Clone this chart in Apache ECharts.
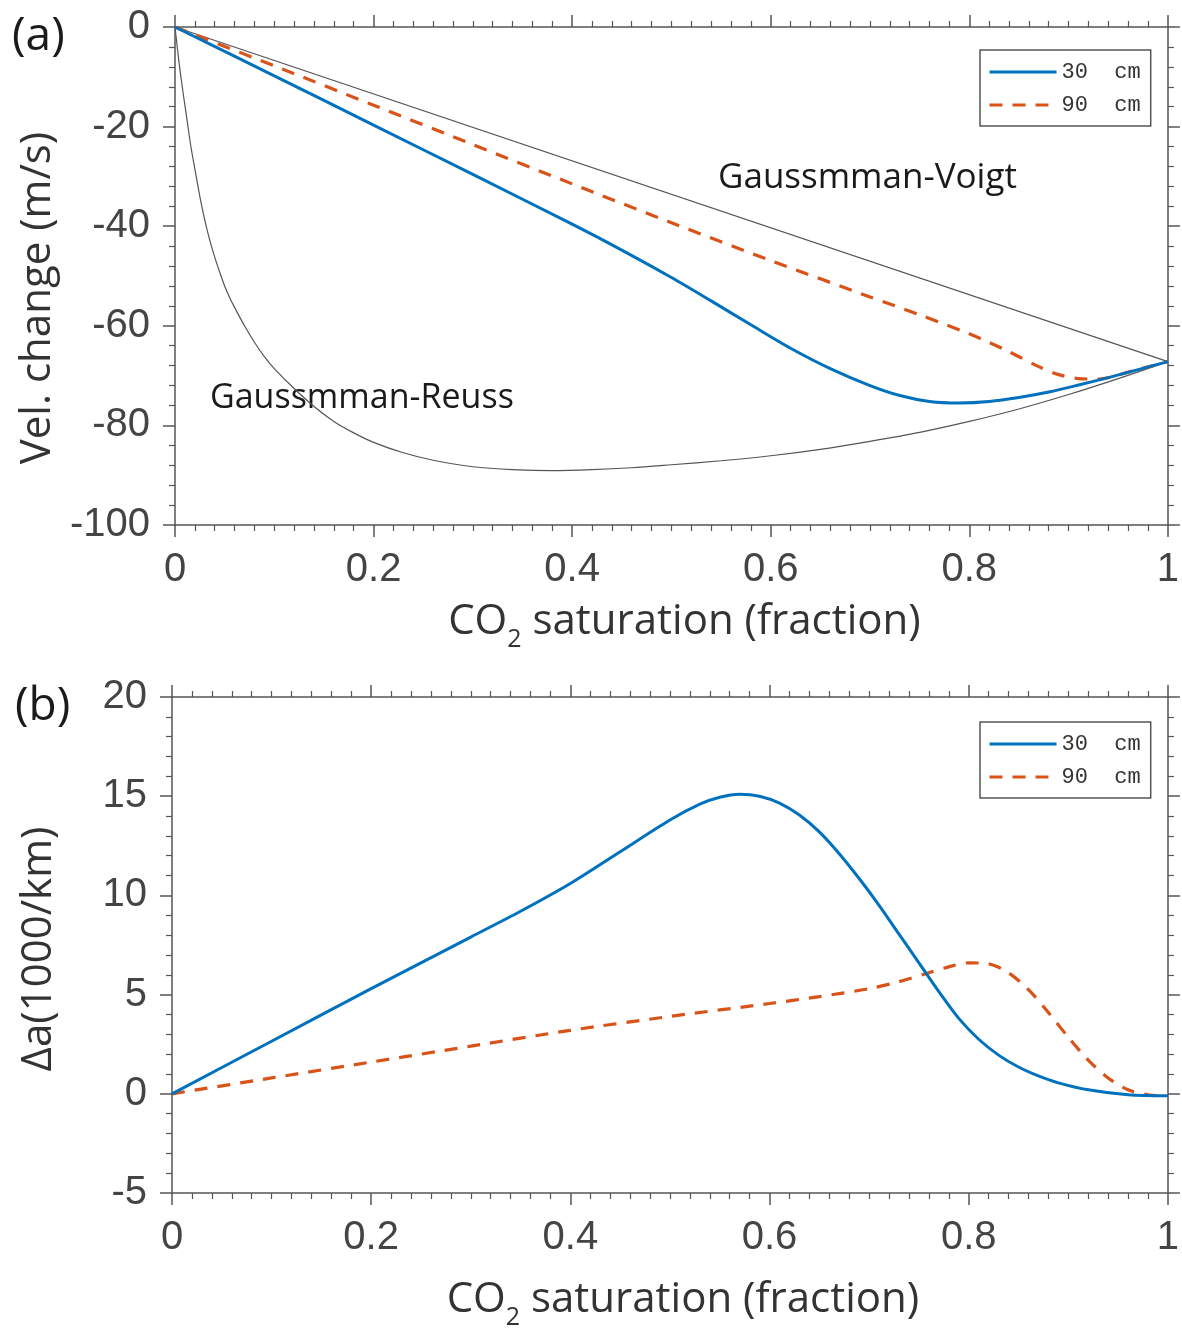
<!DOCTYPE html>
<html>
<head>
<meta charset="utf-8">
<title>CO2 saturation</title>
<script src="https://cdn.jsdelivr.net/npm/echarts@6.0.0/dist/echarts.min.js"></script>
<style>
  html, body { margin: 0; padding: 0; background: #fff; }
  #chart { width: 1182px; height: 1331px; }
</style>
</head>
<body>
<div id="chart"></div>
<script>
// ---- data ----
// (a) velocity change (m/s) vs CO2 saturation
var voigtX = [0, 1];
var voigtV = [0, -67.2];

var reussX = [0, 0.004, 0.008, 0.012, 0.016, 0.02, 0.025, 0.03, 0.035, 0.04, 0.045, 0.05, 0.055, 0.06, 0.07, 0.08, 0.09, 0.1, 0.12, 0.14, 0.16, 0.18, 0.2, 0.23, 0.26, 0.3, 0.34, 0.38, 0.42, 0.46, 0.5, 0.55, 0.6, 0.65, 0.7, 0.75, 0.8, 0.85, 0.9, 0.95, 1];
var reussV = [0, -7, -13, -18.5, -24, -28.5, -34, -38.8, -42.8, -46.2, -49.2, -52, -54.3, -56.3, -60, -63.3, -66.2, -68.6, -72.6, -76.2, -79.2, -81.5, -83.4, -85.5, -87, -88.3, -88.9, -89.1, -88.9, -88.5, -87.9, -87.1, -86.1, -84.8, -83.2, -81.4, -79.2, -76.7, -73.8, -70.6, -67.2];

var vel30X = [0, 0.1, 0.2, 0.3, 0.4, 0.45, 0.5, 0.54, 0.58, 0.62, 0.66, 0.7, 0.73, 0.76, 0.79, 0.82, 0.85, 0.88, 0.91, 0.94, 0.97, 1];
var vel30V = [0, -9.8, -19.7, -29.6, -39.6, -44.8, -50.3, -55, -59.8, -64.5, -68.6, -72, -74, -75.2, -75.5, -75.2, -74.4, -73.3, -71.9, -70.4, -68.8, -67.2];

var vel90X = [0, 0.1, 0.2, 0.3, 0.4, 0.5, 0.6, 0.7, 0.75, 0.8, 0.84, 0.87, 0.89, 0.91, 0.93, 0.96, 1];
var vel90V = [0, -7.8, -15.7, -23.6, -31.5, -39.3, -46.9, -54.2, -57.8, -61.6, -65.2, -68.2, -69.8, -70.6, -70.7, -69.3, -67.2];

// (b) attenuation change (1000/km)
var att30X = [0, 0.1, 0.2, 0.3, 0.35, 0.4, 0.45, 0.5, 0.53, 0.55, 0.57, 0.59, 0.61, 0.63, 0.65, 0.67, 0.69, 0.71, 0.73, 0.75, 0.77, 0.79, 0.81, 0.83, 0.85, 0.87, 0.89, 0.92, 0.96, 1];
var att30V = [0, 2.65, 5.3, 7.9, 9.2, 10.6, 12.2, 13.8, 14.6, 14.95, 15.1, 15.0, 14.65, 14.05, 13.2, 12.1, 10.85, 9.5, 8.05, 6.6, 5.15, 3.8, 2.75, 1.95, 1.35, 0.9, 0.55, 0.2, -0.05, -0.1];

var att90X = [0, 0.1, 0.2, 0.3, 0.4, 0.5, 0.6, 0.65, 0.7, 0.73, 0.76, 0.78, 0.8, 0.82, 0.84, 0.86, 0.88, 0.9, 0.92, 0.94, 0.96, 0.98, 1];
var att90V = [0, 0.8, 1.6, 2.4, 3.2, 3.9, 4.55, 4.9, 5.3, 5.65, 6.1, 6.4, 6.6, 6.55, 6.1, 5.25, 4.1, 2.85, 1.7, 0.8, 0.2, -0.05, -0.1];

var xTicks = [0, 0.2, 0.4, 0.6, 0.8, 1];
var yTicksA = [-100, -80, -60, -40, -20, 0];
var yTicksB = [-5, 0, 5, 10, 15, 20];
var legendNames = ['30 cm', '90 cm'];

function pairs(xs, ys) {
    return xs.map(function (x, i) { return [x, ys[i]]; });
}

var AXIS = '#555';
var BLUE = '#0072BD';
var ORANGE = '#D95319';
var LABEL_FONT = 'Liberation Sans';
var TITLE_FONT = 'Open Sans';

var xName = {
    name: '{a|CO}{s|2}{a| saturation (fraction)}',
    rich: {
        a: { fontFamily: TITLE_FONT, fontSize: 42, color: '#333', lineHeight: 60, verticalAlign: 'middle' },
        s: { fontFamily: TITLE_FONT, fontSize: 25, color: '#333', lineHeight: 26, verticalAlign: 'bottom' }
    }
};

// one axis of the box; labelled or not
function makeX(grid, pos, labelled, gap) {
    return {
        type: 'value', gridIndex: grid, position: pos,
        min: xTicks[0], max: xTicks[xTicks.length - 1], interval: 0.2,
        name: labelled ? xName.name : '',
        nameLocation: 'middle', nameGap: gap,
        nameTextStyle: { rich: xName.rich, padding: [0, 0, 0, 26] },
        axisLine: { show: true, onZero: false, lineStyle: { color: AXIS, width: 1.5 } },
        axisTick: { show: true, inside: false, length: 12, lineStyle: { color: AXIS, width: 1.5 } },
        minorTick: { show: true, splitNumber: 10, length: 6, lineStyle: { color: AXIS, width: 1.2 } },
        axisLabel: {
            show: labelled, margin: 25, fontFamily: LABEL_FONT, fontSize: 40, color: '#444',
            formatter: function (v) { return String(+v.toFixed(1)); }
        },
        splitLine: { show: false }
    };
}

// shift: moves the rotated title down the page (px * 2 of padding)
function makeY(grid, pos, labelled, ticks, name, shift) {
    return {
        type: 'value', gridIndex: grid, position: pos,
        min: ticks[0], max: ticks[ticks.length - 1], interval: ticks[1] - ticks[0],
        name: labelled ? name : '',
        nameLocation: 'middle', nameGap: 112,
        nameTextStyle: { fontFamily: TITLE_FONT, fontSize: 42, color: '#333', padding: [0, shift || 0, 0, 0] },
        axisLine: { show: true, onZero: false, lineStyle: { color: AXIS, width: 1.5 } },
        axisTick: { show: true, inside: false, length: 12, lineStyle: { color: AXIS, width: 1.5 } },
        minorTick: { show: true, splitNumber: 5, length: 6, lineStyle: { color: AXIS, width: 1.2 } },
        axisLabel: { show: labelled, margin: 25, fontFamily: LABEL_FONT, fontSize: 40, color: '#444' },
        splitLine: { show: false }
    };
}

function makeLegend(top) {
    return {
        orient: 'vertical', left: 980, top: top,
        data: legendNames,
        selectedMode: false,
        itemWidth: 67, itemHeight: 20, itemGap: 11,
        padding: [11, 10, 10, 8],
        borderColor: AXIS, borderWidth: 1.5, backgroundColor: '#fff',
        itemStyle: { opacity: 0 },          // hide the symbol, keep the line
        lineStyle: { width: 3 },
        textStyle: { fontFamily: 'Liberation Mono', fontSize: 22, color: '#333' },
        formatter: function (n) { return n.replace(' ', '  '); }
    };
}

function curve(name, xi, yi, data, color, width, dashed) {
    return {
        name: name, type: 'line', xAxisIndex: xi, yAxisIndex: yi,
        data: data, smooth: 0.3, symbol: 'none', silent: true,
        lineStyle: { color: color, width: width, type: dashed ? [13, 10] : 'solid' },
        itemStyle: { color: color }
    };
}

var chart = echarts.init(document.getElementById('chart'));

var option = {
    animation: false,
    backgroundColor: '#fff',
    grid: [
        { left: 175, top: 27, width: 998, height: 498 },
        { left: 172, top: 697, width: 1001, height: 498 }
    ],
    xAxis: [
        makeX(0, 'bottom', true, 67),
        makeX(0, 'top', false, 0),
        makeX(1, 'bottom', true, 77),
        makeX(1, 'top', false, 0)
    ],
    yAxis: [
        makeY(0, 'left', true, yTicksA, 'Vel. change (m/s)', 44),
        makeY(0, 'right', false, yTicksA, ''),
        makeY(1, 'left', true, yTicksB, '\u0394a(1000/km)', 8),
        makeY(1, 'right', false, yTicksB, '')
    ],
    legend: [makeLegend(50), makeLegend(722)],
    series: [
        curve('Gaussmman-Voigt', 0, 0, pairs(voigtX, voigtV), '#555', 1.2, false),
        curve('Gaussmman-Reuss', 0, 0, pairs(reussX, reussV), '#555', 1.2, false),
        curve('90 cm', 0, 0, pairs(vel90X, vel90V), ORANGE, 3.2, true),
        curve('30 cm', 0, 0, pairs(vel30X, vel30V), BLUE, 3, false),
        curve('90 cm', 2, 2, pairs(att90X, att90V), ORANGE, 3.2, true),
        curve('30 cm', 2, 2, pairs(att30X, att30V), BLUE, 3, false)
    ],
    graphic: [
        { type: 'text', left: 12, top: 14, style: { text: '(a)', font: '46px "Open Sans"', fill: '#1a1a1a' } },
        { type: 'text', left: 15, top: 684, style: { text: '(b)', font: '46px "Open Sans"', fill: '#1a1a1a' } },
        { type: 'text', left: 718, top: 161, style: { text: 'Gaussmman-Voigt', font: '35px "Open Sans"', fill: '#1a1a1a' } },
        { type: 'text', left: 210, top: 381, style: { text: 'Gaussmman-Reuss', font: '34px "Open Sans"', fill: '#1a1a1a' } }
    ]
};

chart.setOption(option);
</script>
</body>
</html>
